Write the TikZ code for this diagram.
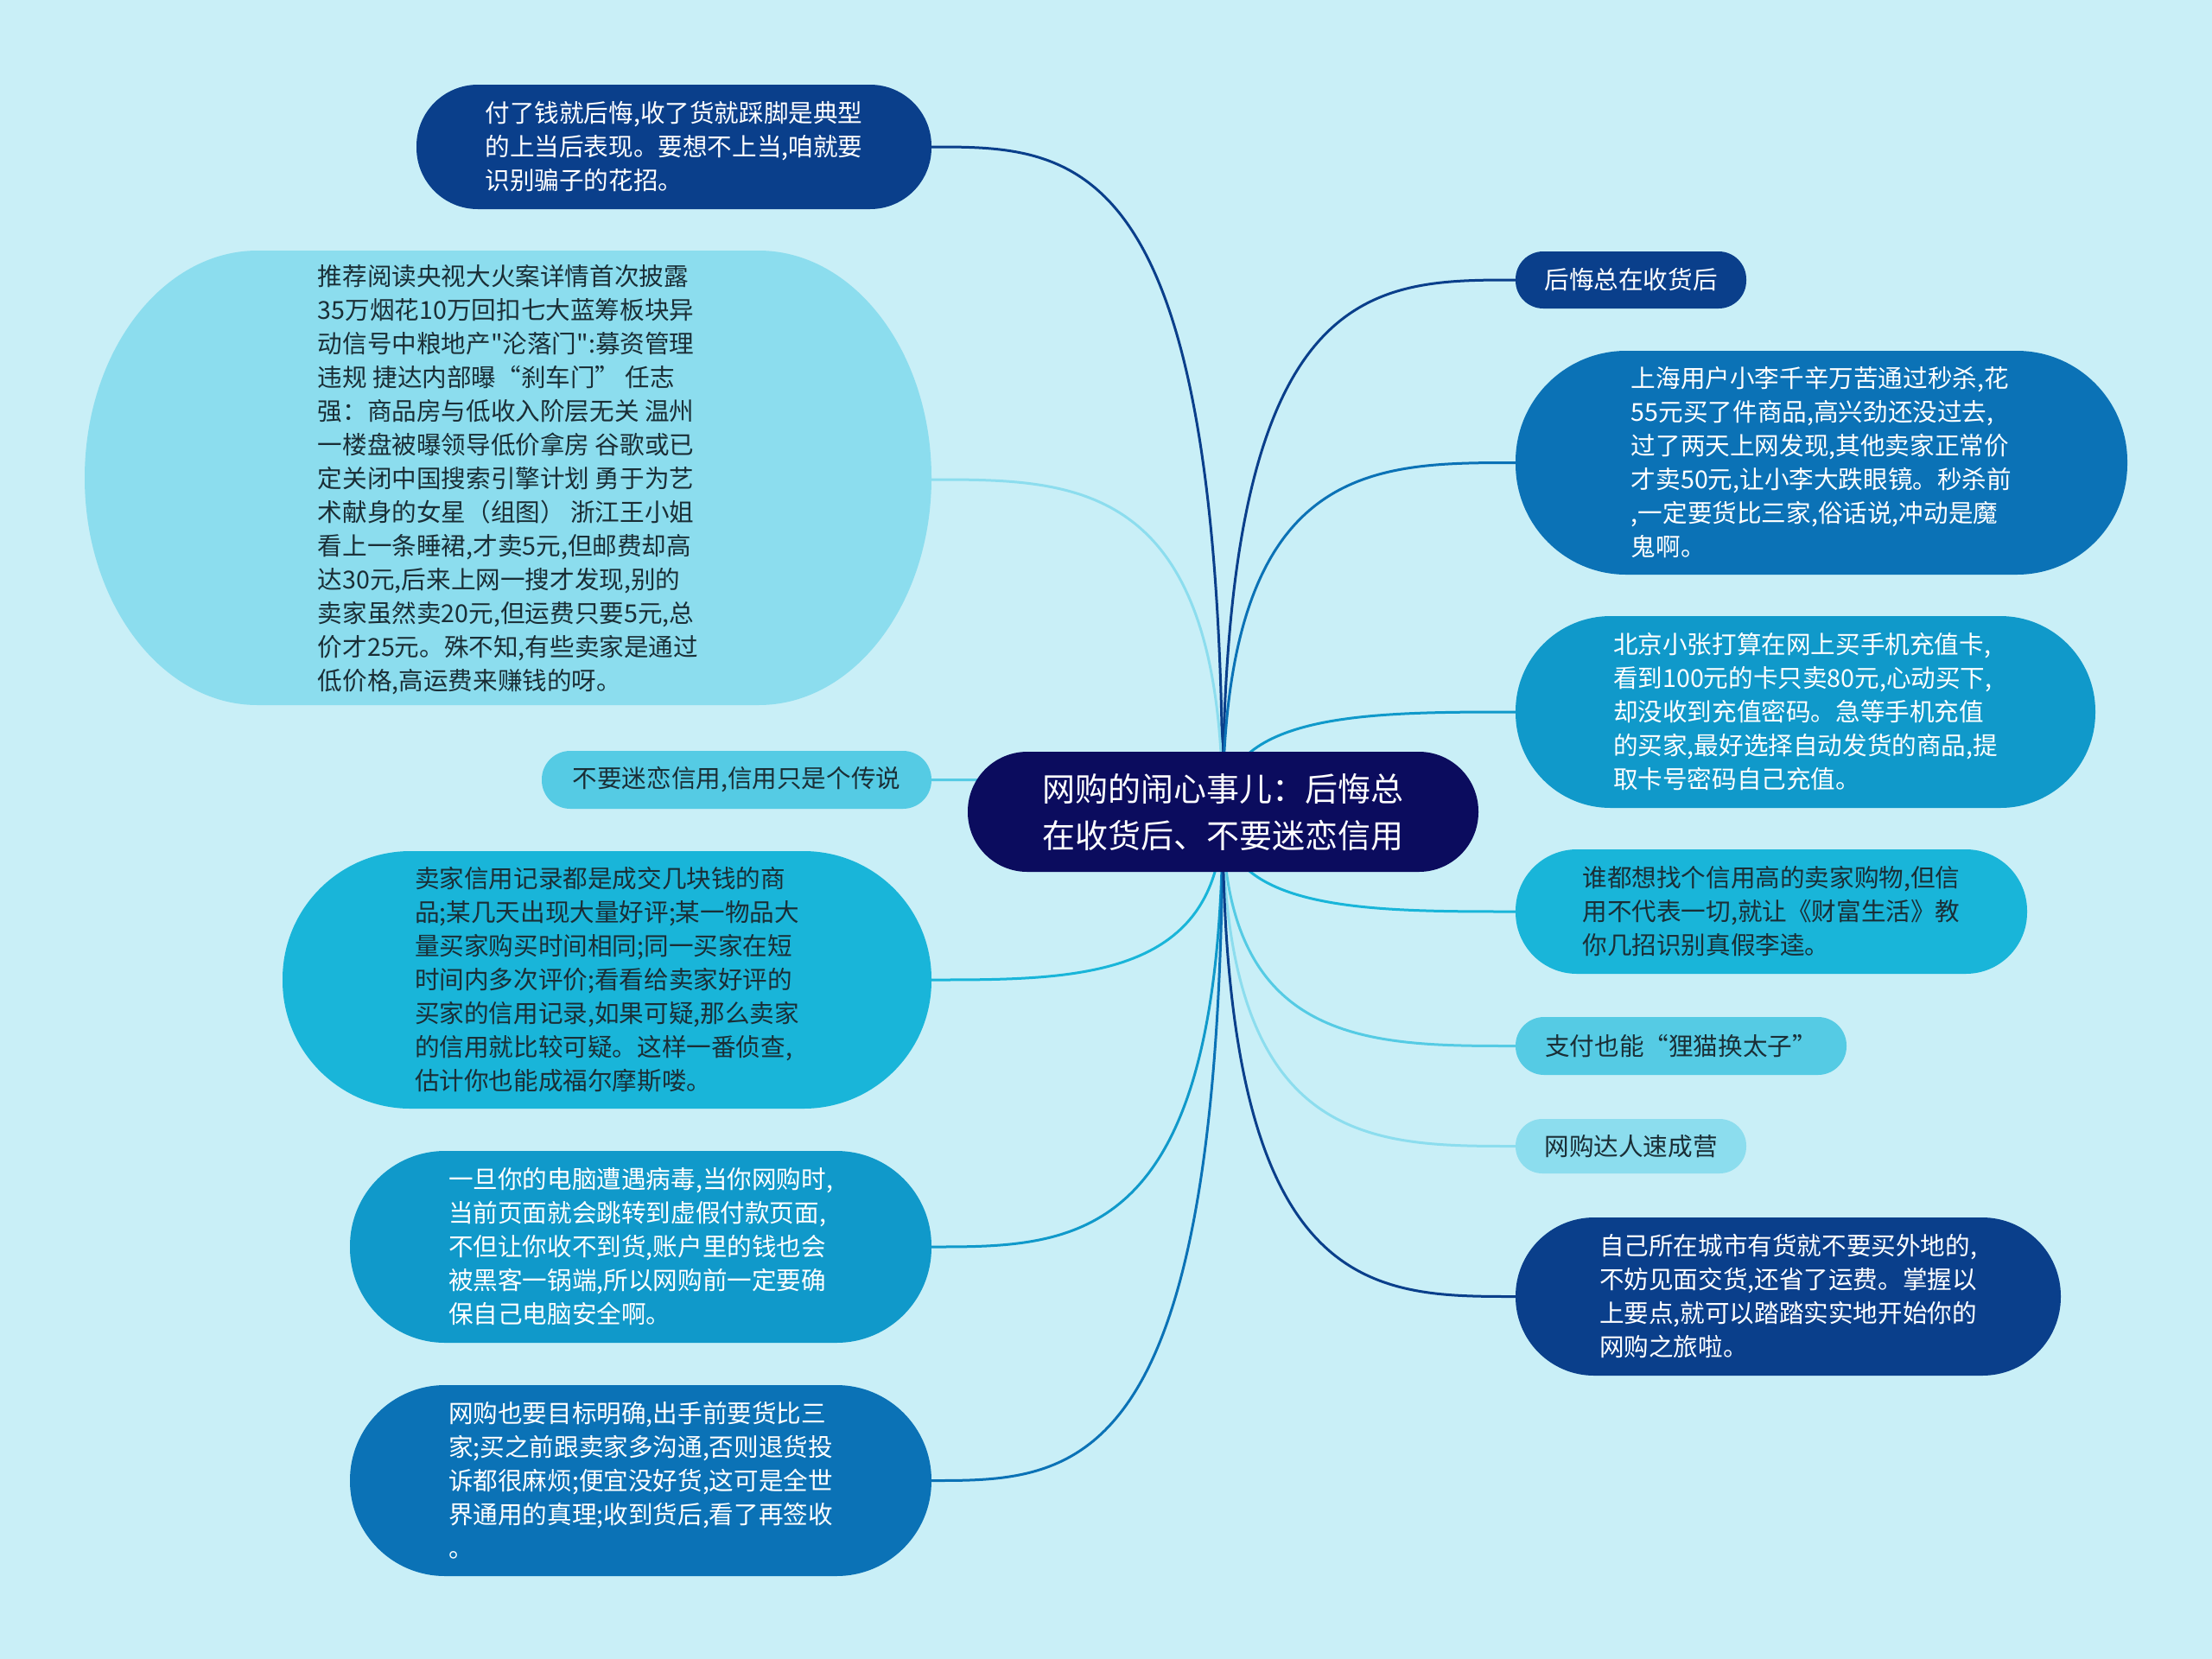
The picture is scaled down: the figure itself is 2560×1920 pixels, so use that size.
\documentclass[tikz,border=0pt]{standalone}
\usepackage{fontspec}
\setmainfont[Ligatures=TeXOff]{Noto Sans CJK SC}
\usetikzlibrary{calc}
\definecolor{bgc}{HTML}{C9EFF7}
\definecolor{navy}{HTML}{0B0C5E}
\definecolor{dblue}{HTML}{0A3F8B}
\definecolor{blue}{HTML}{0B72B6}
\definecolor{mblue}{HTML}{1099CA}
\definecolor{cyanb}{HTML}{19B5D9}
\definecolor{lcyan}{HTML}{55CBE4}
\definecolor{pale}{HTML}{8CDDEE}
\definecolor{txtd}{HTML}{1A2E36}
\pgfdeclarelayer{back}
\pgfdeclarelayer{edges}
\pgfsetlayers{back,edges,main}
\newcommand\linkto[2]{\draw[edge,#2] (c) .. controls (c |- #1) and ($(c |- #1)!0.5!(#1)$) .. (#1);}
\begin{document}
\begin{tikzpicture}[x=1pt,y=-1pt,
  pill/.style={inner sep=0pt, align=left, font=\fontsize{28.6pt}{39pt}\selectfont},
  lite/.style={text=txtd},
  dark/.style={text=white},
  edge/.style={line width=3pt}]
\begin{pgfonlayer}{back}
\fill[bgc] (0,0) rectangle (2560,1920);
\end{pgfonlayer}
\useasboundingbox (0,0) rectangle (2560,1920);

\coordinate (c) at (1415,940);

% center
\node[pill, dark, fill=navy, minimum width=591pt, minimum height=139pt, rounded corners=69pt,
  font=\fontsize{38pt}{54pt}\selectfont] (C) at (1415.5,939.5)
  {网购的闹心事儿：后悔总\\在收货后、不要迷恋信用};

% left nodes
\node[pill, dark, fill=dblue, minimum width=596pt, minimum height=144pt, rounded corners=71pt] (L1) at (780,170)
  {付了钱就后悔,收了货就踩脚是典型\\的上当后表现。要想不上当,咱就要\\识别骗子的花招。};

\fill[pale] (298,290) -- (878,290) .. controls (988.5,290) and (1078,407.7) .. (1078,553)
  .. controls (1078,698.3) and (988.5,816) .. (878,816) -- (298,816)
  .. controls (187.5,816) and (98,698.3) .. (98,553)
  .. controls (98,407.7) and (187.5,290) .. (298,290) -- cycle;
\node[pill, lite, minimum width=980pt, minimum height=526pt] (L2) at (588,555)
  {推荐阅读央视大火案详情首次披露\\
35万烟花10万回扣七大蓝筹板块异\\
动信号中粮地产"沦落门":募资管理\\
违规 捷达内部曝“刹车门” 任志\\
强：商品房与低收入阶层无关 温州\\
一楼盘被曝领导低价拿房 谷歌或已\\
定关闭中国搜索引擎计划 勇于为艺\\
术献身的女星（组图） 浙江王小姐\\
看上一条睡裙,才卖5元,但邮费却高\\
达30元,后来上网一搜才发现,别的\\
卖家虽然卖20元,但运费只要5元,总\\
价才25元。殊不知,有些卖家是通过\\
低价格,高运费来赚钱的呀。};

\node[pill, lite, fill=lcyan, minimum width=451pt, minimum height=67pt, rounded corners=33pt] (L3) at (852.5,902.5)
  {不要迷恋信用,信用只是个传说};

\node[pill, lite, fill=cyanb, minimum width=751pt, minimum height=298pt, rounded corners=148pt] (L4) at (702.5,1134)
  {卖家信用记录都是成交几块钱的商\\
品;某几天出现大量好评;某一物品大\\
量买家购买时间相同;同一买家在短\\
时间内多次评价;看看给卖家好评的\\
买家的信用记录,如果可疑,那么卖家\\
的信用就比较可疑。这样一番侦查,\\
估计你也能成福尔摩斯喽。};

\node[pill, dark, fill=mblue, minimum width=673pt, minimum height=222pt, rounded corners=110pt] (L5) at (741.5,1443)
  {一旦你的电脑遭遇病毒,当你网购时,\\
当前页面就会跳转到虚假付款页面,\\
不但让你收不到货,账户里的钱也会\\
被黑客一锅端,所以网购前一定要确\\
保自己电脑安全啊。};

\node[pill, dark, fill=blue, minimum width=673pt, minimum height=221pt, rounded corners=110pt] (L6) at (741.5,1713.5)
  {网购也要目标明确,出手前要货比三\\
家;买之前跟卖家多沟通,否则退货投\\
诉都很麻烦;便宜没好货,这可是全世\\
界通用的真理;收到货后,看了再签收\\
。};

% right nodes
\node[pill, dark, fill=dblue, minimum width=267pt, minimum height=66pt, rounded corners=32pt] (R1) at (1887.5,324)
  {后悔总在收货后};

\node[pill, dark, fill=blue, minimum width=708pt, minimum height=259pt, rounded corners=128pt] (R2) at (2108,535.5)
  {上海用户小李千辛万苦通过秒杀,花\\
55元买了件商品,高兴劲还没过去,\\
过了两天上网发现,其他卖家正常价\\
才卖50元,让小李大跌眼镜。秒杀前\\
,一定要货比三家,俗话说,冲动是魔\\
鬼啊。};

\node[pill, dark, fill=mblue, minimum width=671pt, minimum height=222pt, rounded corners=110pt] (R3) at (2089.5,824)
  {北京小张打算在网上买手机充值卡,\\
看到100元的卡只卖80元,心动买下,\\
却没收到充值密码。急等手机充值\\
的买家,最好选择自动发货的商品,提\\
取卡号密码自己充值。};

\node[pill, lite, fill=cyanb, minimum width=592pt, minimum height=144pt, rounded corners=71pt] (R4) at (2050,1055)
  {谁都想找个信用高的卖家购物,但信\\
用不代表一切,就让《财富生活》教\\
你几招识别真假李逵。};

\node[pill, lite, fill=lcyan, minimum width=383pt, minimum height=67pt, rounded corners=33pt] (R5) at (1945.5,1210.5)
  {支付也能“狸猫换太子”};

\node[pill, lite, fill=pale, minimum width=267pt, minimum height=63pt, rounded corners=31pt] (R6) at (1887.5,1326.5)
  {网购达人速成营};

\node[pill, dark, fill=dblue, minimum width=631pt, minimum height=183pt, rounded corners=91pt] (R7) at (2069.5,1500.5)
  {自己所在城市有货就不要买外地的,\\
不妨见面交货,还省了运费。掌握以\\
上要点,就可以踏踏实实地开始你的\\
网购之旅啦。};

\begin{pgfonlayer}{edges}
\linkto{L1.east}{dblue}
\linkto{L2.east}{pale}
\linkto{L3.east}{lcyan}
\linkto{L4.east}{cyanb}
\linkto{L5.east}{mblue}
\linkto{L6.east}{blue}
\linkto{R1.west}{dblue}
\linkto{R2.west}{blue}
\linkto{R3.west}{mblue}
\linkto{R4.west}{cyanb}
\linkto{R5.west}{lcyan}
\linkto{R6.west}{pale}
\linkto{R7.west}{dblue}
\end{pgfonlayer}
\end{tikzpicture}
\end{document}
